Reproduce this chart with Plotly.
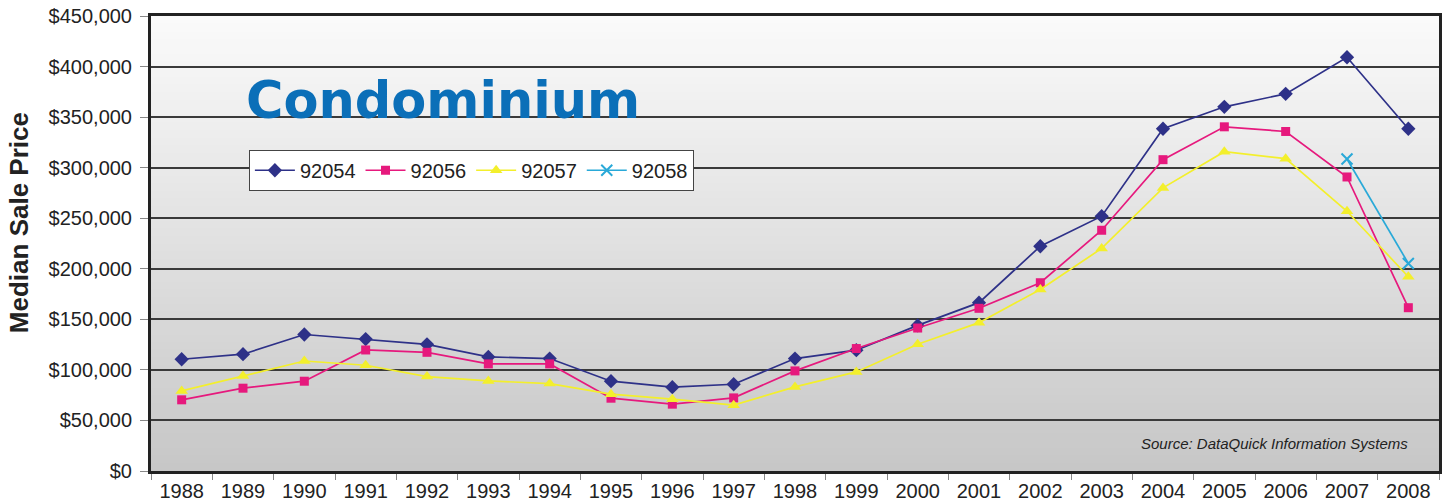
import plotly.graph_objects as go

years = [str(y) for y in range(1988, 2009)]

zip_92054 = [110500, 115500, 135000, 130500, 125300, 112800, 111200, 88800, 82900, 85800,
             111200, 119500, 144000, 166500, 222300, 252000, 338500, 360200, 373000, 409200, 338500]
zip_92056 = [70400, 81900, 88800, 119700, 117400, 105900, 105900, 72000, 66100, 72300,
             99000, 121100, 141400, 160900, 186200, 238100, 307900, 340400, 335800, 290800, 161500]
zip_92057 = [79200, 94000, 108800, 104600, 93400, 89100, 86500, 76000, 71000, 65100,
             83200, 98000, 125300, 146700, 179600, 220100, 280000, 315800, 308900, 256900, 192100]
zip_92058_years = ["2007", "2008"]
zip_92058 = [308600, 205300]

y_ticks = [0, 50000, 100000, 150000, 200000, 250000, 300000, 350000, 400000, 450000]
y_tick_text = ["$0", "$50,000", "$100,000", "$150,000", "$200,000", "$250,000",
               "$300,000", "$350,000", "$400,000", "$450,000"]

fig = go.Figure()

fig.add_trace(go.Scatter(x=years, y=zip_92054, name="92054", mode="lines+markers",
                         line=dict(color="#2e3188", width=1.7),
                         marker=dict(symbol="diamond", size=11, color="#2e3188")))
fig.add_trace(go.Scatter(x=years, y=zip_92056, name="92056", mode="lines+markers",
                         line=dict(color="#e6197d", width=1.7),
                         marker=dict(symbol="square", size=9, color="#e6197d")))
fig.add_trace(go.Scatter(x=years, y=zip_92057, name="92057", mode="lines+markers",
                         line=dict(color="#f3ef2c", width=1.7),
                         marker=dict(symbol="triangle-up", size=11, color="#f3ef2c")))
fig.add_trace(go.Scatter(x=zip_92058_years, y=zip_92058, name="92058", mode="lines+markers",
                         line=dict(color="#29a9d8", width=1.7),
                         marker=dict(symbol="x-thin", size=11, color="#29a9d8",
                                     line=dict(color="#29a9d8", width=2))))

# vertical gradient background
n_bands = 60
shapes = []
for i in range(n_bands):
    t = i / (n_bands - 1)
    c = int(round(250 - (250 - 199) * (1 - t)))
    shapes.append(dict(type="rect", xref="x domain", yref="y domain",
                       x0=0, x1=1, y0=i / n_bands, y1=(i + 1) / n_bands + 0.002,
                       fillcolor=f"rgb({c},{c},{c})", line=dict(width=0), layer="below"))

fig.update_layout(
    width=1451, height=502,
    margin=dict(l=151, r=12, t=16, b=31, autoexpand=False),
    paper_bgcolor="white",
    plot_bgcolor="#e0e0e0",
    font=dict(family="Liberation Sans, Arial, sans-serif", color="#222222"),
    shapes=shapes,
    showlegend=True,
    legend=dict(orientation="h", x=0.076, y=0.706, xanchor="left", yanchor="top",
                bgcolor="white", bordercolor="#444444", borderwidth=1,
                font=dict(size=20, color="#222222"), itemwidth=40,
                tracegroupgap=0),
    xaxis=dict(type="category", range=[-0.5, 20.5], showgrid=False, automargin=False,
               tickson="boundaries", ticks="outside", ticklen=6, tickcolor="#888888",
               tickfont=dict(size=20, color="#222222"),
               showline=True, linecolor="#222222", linewidth=3, mirror=True),
    yaxis=dict(range=[0, 450000], tickvals=y_ticks, ticktext=y_tick_text, automargin=False,
               ticks="outside", ticklen=8, tickcolor="#888888", ticklabelstandoff=4,
               tickfont=dict(size=20, color="#222222"),
               showgrid=True, gridcolor="#3a3a3a", gridwidth=1.5, zeroline=False,
               showline=True, linecolor="#222222", linewidth=3, mirror=True),
    annotations=[
        dict(text="<b>Condominium</b>", xref="paper", yref="paper", x=0.072, y=0.815,
             xanchor="left", yanchor="middle", showarrow=False,
             font=dict(family="DejaVu Sans, Verdana, sans-serif", size=51, color="#0b6fb8")),
        dict(text="<i>Source: DataQuick Information Systems</i>", xref="paper", yref="paper",
             x=0.9775, y=0.0615, xanchor="right", yanchor="middle", showarrow=False,
             font=dict(size=15, color="#222222")),
        dict(text="<b>Median Sale Price</b>", xref="paper", yref="paper",
             x=-0.1024, y=0.545, xanchor="center", yanchor="middle", textangle=-90,
             showarrow=False, font=dict(size=26, color="#222222")),
    ],
)

fig.write_html("out.html", config={"displayModeBar": False},
               post_script="document.body.style.margin='0';document.body.style.overflow='hidden';")
